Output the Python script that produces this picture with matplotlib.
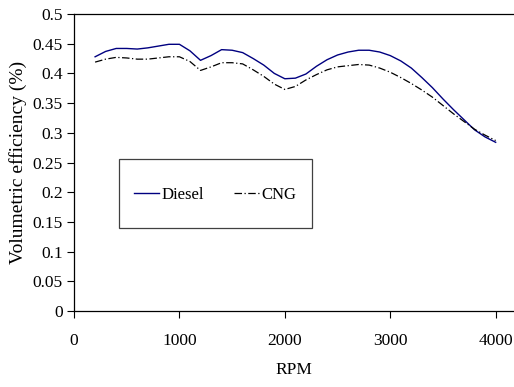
import matplotlib
matplotlib.use('Agg')
import matplotlib.pyplot as plt
from matplotlib.patches import Rectangle

# volumetric efficiency
rpm = [200, 300, 400, 500, 600, 700, 800, 900, 1000, 1100,
       1200, 1300, 1400, 1500, 1600, 1700, 1800, 1900, 2000, 2100,
       2200, 2300, 2400, 2500, 2600, 2700, 2800, 2900, 3000, 3100,
       3200, 3300, 3400, 3500, 3600, 3700, 3800, 3900, 4000]
diesel = [0.428, 0.437, 0.442, 0.442, 0.441, 0.443, 0.446, 0.449, 0.449, 0.438,
          0.422, 0.430, 0.440, 0.439, 0.435, 0.425, 0.414, 0.400, 0.391, 0.392,
          0.399, 0.412, 0.423, 0.431, 0.436, 0.439, 0.439, 0.436, 0.430, 0.421,
          0.409, 0.393, 0.376, 0.357, 0.339, 0.322, 0.305, 0.293, 0.284]
cng = [0.419, 0.424, 0.427, 0.426, 0.424, 0.424, 0.426, 0.428, 0.428, 0.420,
       0.405, 0.411, 0.418, 0.418, 0.416, 0.406, 0.395, 0.382, 0.373, 0.378,
       0.389, 0.398, 0.406, 0.411, 0.413, 0.415, 0.414, 0.409, 0.402, 0.393,
       0.383, 0.372, 0.360, 0.346, 0.332, 0.319, 0.306, 0.296, 0.287]

yticks = [0, 0.05, 0.1, 0.15, 0.2, 0.25, 0.3, 0.35, 0.4, 0.45, 0.5]
ylabels = ['0', '0.05', '0.1', '0.15', '0.2', '0.25', '0.3', '0.35', '0.4', '0.45', '0.5']
xticks = [0, 1000, 2000, 3000, 4000]

matplotlib.rcParams['font.family'] = 'Liberation Serif'

fig = plt.figure(figsize=(5.14, 3.87), dpi=100)
ax = fig.add_axes([0.144, 0.1964, 0.856, 0.7674])

ax.plot(rpm, diesel, color='#000080', lw=1.0, label='Diesel')
ax.plot(rpm, cng, color='black', lw=0.9, ls=(0, (6, 2, 1, 2)), label='CNG')

ax.set_xlim(0, 4174)
ax.set_ylim(0, 0.5)
ax.set_xticks(xticks)
ax.set_xticklabels([str(t) for t in xticks])
ax.set_yticks(yticks)
ax.set_yticklabels(ylabels)
ax.tick_params(labelsize=12.5, direction='out', length=5, width=0.8)
ax.tick_params(axis='x', pad=11)
ax.tick_params(axis='y', pad=3)
ax.spines['right'].set_visible(False)
for s in ['left', 'bottom', 'top']:
    ax.spines[s].set_linewidth(0.9)

ax.set_ylabel('Volumetric efficiency (%)', fontsize=14, labelpad=4)
ax.set_xlabel('RPM', fontsize=12.5, labelpad=9)

# legend box
ax.add_patch(Rectangle((0.102, 0.2805), 0.4385, 0.2303, transform=ax.transAxes,
                       fill=False, edgecolor='#404040', lw=0.9, zorder=3))
leg = ax.legend(loc='center', bbox_to_anchor=(0.3216, 0.3906), ncol=2, fontsize=12,
                handlelength=1.5, handletextpad=0.15, columnspacing=1.8,
                borderaxespad=0, frameon=False)

plt.savefig('out.png', dpi=100)
